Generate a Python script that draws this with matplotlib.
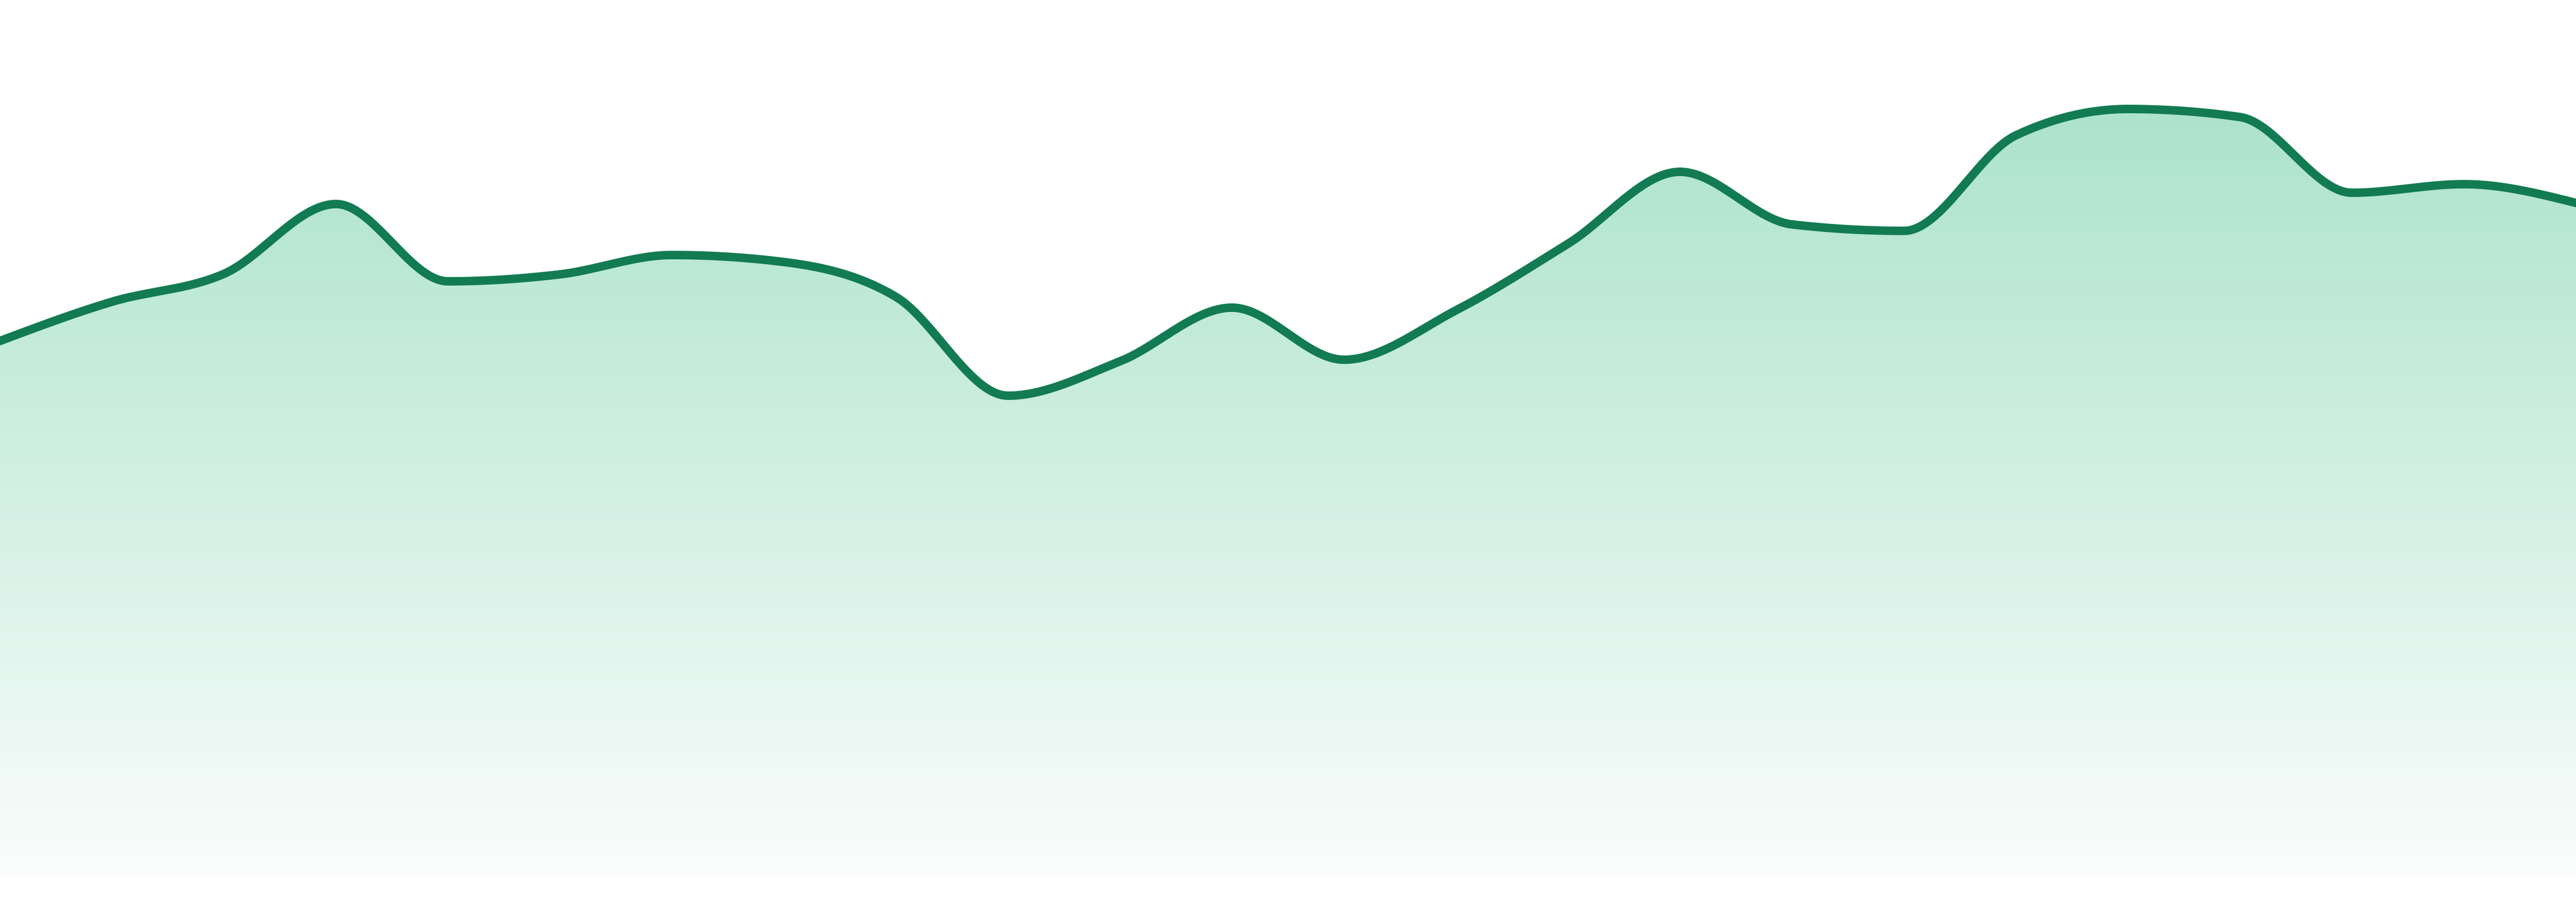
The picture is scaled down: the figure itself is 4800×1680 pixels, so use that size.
import numpy as np
import matplotlib
matplotlib.use('Agg')
import matplotlib.pyplot as plt
from matplotlib.path import Path
from matplotlib.patches import PathPatch

# series values, one per step
steps = list(range(24))
values = [99.7, 107.0, 112.2, 125.2, 110.8, 112.1, 115.7, 114.4, 107.9, 89.5,
          95.9, 105.9, 96.2, 105.4, 117.8, 131.2, 121.4, 120.2, 138.0, 142.9,
          141.4, 127.3, 128.9, 125.4]

line_color = '#127b52'
top_rgb = np.array([172, 227, 205]) / 255
bottom_rgb = np.array([250, 253, 252]) / 255


def monotone_x(x, y, per_seg=40):
    # same idea as d3.curveMonotoneX
    x = np.asarray(x, float)
    y = np.asarray(y, float)
    n = len(x)
    h = np.diff(x)
    s = np.diff(y) / h
    t = np.zeros(n)
    for i in range(1, n - 1):
        p = (s[i - 1] * h[i] + s[i] * h[i - 1]) / (h[i - 1] + h[i])
        t[i] = (np.sign(s[i - 1]) + np.sign(s[i])) * min(abs(s[i - 1]), abs(s[i]), 0.5 * abs(p))
    t[0] = (3 * s[0] - t[1]) / 2
    t[-1] = (3 * s[-1] - t[-2]) / 2
    xs, ys = [], []
    u = np.linspace(0, 1, per_seg, endpoint=False)
    for i in range(n - 1):
        dx = h[i] / 3
        p0 = np.array([x[i], y[i]])
        p1 = np.array([x[i] + dx, y[i] + dx * t[i]])
        p2 = np.array([x[i + 1] - dx, y[i + 1] - dx * t[i + 1]])
        p3 = np.array([x[i + 1], y[i + 1]])
        b = ((1 - u) ** 3)[:, None] * p0 + (3 * (1 - u) ** 2 * u)[:, None] * p1 \
            + (3 * (1 - u) * u ** 2)[:, None] * p2 + (u ** 3)[:, None] * p3
        xs.append(b[:, 0])
        ys.append(b[:, 1])
    xs.append([x[-1]])
    ys.append([y[-1]])
    return np.concatenate(xs), np.concatenate(ys)


sx, sy = monotone_x(steps, values)

fig = plt.figure(figsize=(16, 5.6), dpi=300)
ax = fig.add_axes([0, 48 / 1680, 1, 1632 / 1680])
ax.set_xlim(steps[0], steps[-1])
ax.set_ylim(0, 163.2)
ax.axis('off')

# gradient fill under the curve
ymax = 143.2
grad_y = np.linspace(163.2, 0, 400)
frac = np.clip((ymax - grad_y) / ymax, 0, 1)[:, None]
grad = (top_rgb[None, :] * (1 - frac) + bottom_rgb[None, :] * frac)[:, None, :]
img = ax.imshow(grad, extent=[steps[0], steps[-1], 0, 163.2], aspect='auto',
                origin='upper', zorder=1)
verts = np.column_stack([np.r_[sx, sx[-1], sx[0], sx[0]], np.r_[sy, 0, 0, sy[0]]])
clip = PathPatch(Path(verts, closed=True), transform=ax.transData,
                 facecolor='none', edgecolor='none')
ax.add_patch(clip)
img.set_clip_path(clip)

ax.plot(sx, sy, color=line_color, lw=3.8, solid_joinstyle='round', zorder=2)

fig.savefig('out.png', dpi=300)
